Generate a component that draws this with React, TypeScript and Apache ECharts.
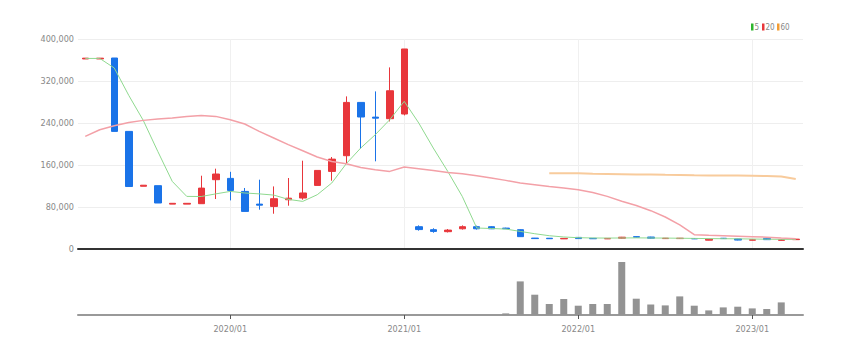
import React, { useEffect, useRef } from 'react';
import * as echarts from 'echarts';

const months = [
  '2019/03', '2019/04', '2019/05', '2019/06', '2019/07', '2019/08', '2019/09', '2019/10', '2019/11', '2019/12',
  '2020/01', '2020/02', '2020/03', '2020/04', '2020/05', '2020/06', '2020/07', '2020/08', '2020/09', '2020/10',
  '2020/11', '2020/12', '2021/01', '2021/02', '2021/03', '2021/04', '2021/05', '2021/06', '2021/07', '2021/08',
  '2021/09', '2021/10', '2021/11', '2021/12', '2022/01', '2022/02', '2022/03', '2022/04', '2022/05', '2022/06',
  '2022/07', '2022/08', '2022/09', '2022/10', '2022/11', '2022/12', '2023/01', '2023/02', '2023/03', '2023/04',
];

// [open, close, low, high]
const candles = [
  [362000, 363500, 362000, 363500], [362000, 363500, 362000, 363500], [363800, 224000, 224000, 363800],
  [224000, 119000, 119000, 224000], [119500, 121500, 119500, 121500], [120600, 87600, 87600, 120600],
  [85500, 87000, 85500, 87000], [85500, 87000, 85500, 87000], [86300, 116000, 86300, 139600],
  [132000, 142800, 95200, 153000], [134500, 111600, 92600, 147000], [109700, 71600, 71600, 116200],
  [85500, 83500, 74900, 132000], [81100, 95800, 67200, 119200], [93800, 96800, 82500, 135200],
  [97100, 106700, 93900, 168200], [121100, 149700, 121100, 149700], [147800, 171200, 130100, 175200],
  [177700, 279200, 162500, 290700], [279200, 251400, 191000, 279200], [251200, 249200, 167000, 300200],
  [248200, 301400, 243000, 345900], [257100, 381000, 254500, 381000], [42500, 37000, 35000, 45000],
  [36800, 33500, 31000, 39500], [33000, 36000, 31500, 38000], [38500, 42500, 37000, 45000],
  [42500, 38500, 37000, 44500], [42500, 38500, 38000, 43500], [39800, 38600, 38000, 40500],
  [36800, 23500, 23000, 37500], [20800, 19800, 19500, 21000], [20500, 19600, 19300, 20800],
  [19300, 20200, 19000, 20500], [22100, 19800, 19500, 22500], [20300, 19500, 19200, 20600],
  [19300, 20200, 19000, 20500], [20500, 22500, 20000, 23000], [23500, 22500, 22000, 24000],
  [22800, 20500, 20000, 23200], [19800, 20600, 19500, 21000], [19800, 20600, 19500, 21000],
  [20000, 19300, 19000, 20400], [16800, 18800, 16500, 19200], [20500, 19800, 19500, 21000],
  [19200, 17000, 16500, 19500], [16800, 17600, 16500, 18000], [20200, 17800, 17500, 20500],
  [16500, 17700, 16200, 18000], [17800, 18800, 17500, 19200],
];

const volumes = [
  null, null, null, null, null, null, null, null, null, null,
  null, null, null, null, null, null, null, null, null, null,
  null, null, null, null, null, null, null, null, null, 80000,
  1680000, 1015000, 550000, 800000, 465000, 550000, 550000, 2650000, 815000, 525000,
  480000, 930000, 465000, 230000, 380000, 415000, 330000, 300000, 630000, null,
];

const ma5 = [
  363000, 363000, 344800, 292600, 245000, 186000, 128800, 100200, 100000, 105000,
  109700, 106700, 105000, 102700, 94500, 90700, 103400, 125700, 162500, 192400,
  217700, 246300, 281200, 240000, 192400, 147800, 100200, 40000, 39000, 38000,
  33500, 29100, 25300, 22900, 21500, 21000, 20800, 21000, 21200, 21000,
  20800, 20500, 20200, 19800, 19600, 19400, 19000, 18700, 18400, 18200,
];

const ma20 = [
  214500, 227200, 234900, 241100, 245000, 247600, 249500, 252600, 254500, 252600,
  246300, 238100, 224000, 211400, 198700, 187200, 175200, 166800, 162500, 155400,
  151000, 147800, 156200, 153000, 149700, 145900, 143400, 139600, 135200, 130700,
  125700, 122500, 119200, 116200, 113000, 107800, 100200, 91000, 83000, 73000,
  61000, 46000, 27200, 26000, 25300, 24500, 23500, 22500, 21000, 19600,
];

const ma60 = [
  null, null, null, null, null, null, null, null, null, null,
  null, null, null, null, null, null, null, null, null, null,
  null, null, null, null, null, null, null, null, null, null,
  null, null, 144500, 144500, 144300, 143500, 143000, 142500, 142000, 141700,
  141300, 141000, 140500, 140200, 140000, 139800, 139500, 139000, 138000, 133300,
];

const legendItems = [
  { name: '5', color: '#2db52d' },
  { name: '20', color: '#e8363b' },
  { name: '60', color: '#f39c32' },
];

const FONT = '"Liberation Sans Narrow", "DejaVu Sans Condensed", "Liberation Sans", sans-serif';
const isYearStart = (_i: number, v: string) => typeof v === 'string' && v.endsWith('/01');

export default function App() {
  const ref = useRef<HTMLDivElement>(null);
  useEffect(() => {
    if (!ref.current) return;
    const chart = echarts.init(ref.current, undefined, { renderer: 'svg' });
    const legendX = [751, 762, 777];
    const graphic: any[] = [];
    legendItems.forEach((it, k) => {
      graphic.push({
        type: 'rect',
        shape: { x: legendX[k], y: 23.5, width: 2.5, height: 7 },
        style: { fill: it.color },
      });
      graphic.push({
        type: 'text',
        x: legendX[k] + 3.5,
        y: 27,
        style: { text: it.name, fontSize: 8, fontFamily: FONT, fill: '#888', verticalAlign: 'middle' },
      });
    });
    chart.setOption({
      animation: false,
      textStyle: { fontFamily: FONT },
      graphic,
      grid: [
        { left: 78, right: 51, top: 39, height: 210 },
        { left: 78, right: 51, top: 262, height: 53 },
      ],
      xAxis: [
        {
          type: 'category',
          gridIndex: 0,
          data: months,
          boundaryGap: true,
          offset: 6,
          axisLine: { lineStyle: { color: '#333', width: 2 } },
          axisTick: { show: false },
          axisLabel: { show: false },
          splitLine: { show: true, interval: isYearStart, alignWithLabel: true, lineStyle: { color: '#f0f0f0' } },
        },
        {
          type: 'category',
          gridIndex: 1,
          data: months,
          boundaryGap: true,
          axisLine: { lineStyle: { color: '#999', width: 2 } },
          axisTick: { show: true, interval: isYearStart, alignWithLabel: true, length: 4, lineStyle: { color: '#555' } },
          axisLabel: { interval: isYearStart, fontSize: 9, color: '#888', margin: 9, fontFamily: FONT },
          splitLine: { show: false },
        },
      ],
      yAxis: [
        {
          type: 'value',
          gridIndex: 0,
          min: 0,
          max: 400000,
          interval: 80000,
          axisLine: { show: false },
          axisTick: { show: false },
          axisLabel: {
            fontSize: 9,
            color: '#888',
            margin: 4,
            fontFamily: FONT,
            formatter: (v: number) => v.toLocaleString('en-US'),
          },
          splitLine: { lineStyle: { color: '#eee' } },
        },
        {
          type: 'value',
          gridIndex: 1,
          min: 0,
          max: 'dataMax',
          show: false,
          splitLine: { show: false },
        },
      ],
      series: [
        {
          type: 'candlestick',
          name: 'price',
          xAxisIndex: 0,
          yAxisIndex: 0,
          data: candles,
          barWidth: 7,
          itemStyle: {
            color: '#e8363b',
            color0: '#1a73e8',
            borderColor: '#e8363b',
            borderColor0: '#1a73e8',
            borderWidth: 1,
          },
        },
        {
          type: 'line',
          name: '5',
          data: ma5,
          showSymbol: false,
          lineStyle: { color: '#8fd98f', width: 1 },
          itemStyle: { color: '#8fd98f' },
        },
        {
          type: 'line',
          name: '20',
          data: ma20,
          showSymbol: false,
          lineStyle: { color: '#f3a0a7', width: 1.5 },
          itemStyle: { color: '#f3a0a7' },
        },
        {
          type: 'line',
          name: '60',
          data: ma60,
          showSymbol: false,
          lineStyle: { color: '#f8cb9c', width: 2 },
          itemStyle: { color: '#f8cb9c' },
        },
        {
          type: 'bar',
          name: 'volume',
          xAxisIndex: 1,
          yAxisIndex: 1,
          data: volumes,
          barWidth: 7,
          itemStyle: { color: '#939393' },
        },
      ],
    });
    return () => chart.dispose();
  }, []);
  return (
    <div
      ref={ref}
      style={{ position: 'fixed', left: 0, top: 0, width: 854, height: 354, background: '#fff' }}
    />
  );
}
